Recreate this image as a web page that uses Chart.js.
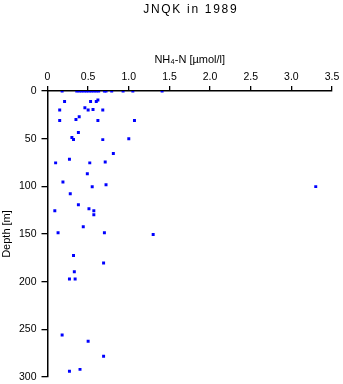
<!DOCTYPE html>
<html>
<head>
<meta charset="utf-8">
<script src="https://cdn.jsdelivr.net/npm/chart.js@4"></script>
<style>
  html, body { margin: 0; padding: 0; background: #fff; }
  #wrap { width: 343px; height: 384px; }
</style>
</head>
<body>
<div id="wrap"><canvas id="chart" width="343" height="384"></canvas></div>
<script>
// NH4-N concentration [umol/l] and sample depth [m]
const nh4 = [
  0.18, 0.36, 0.39, 0.42, 0.45, 0.48, 0.51, 0.54, 0.57, 0.60, 0.63, 0.70, 0.72, 0.79, 0.93, 1.05, 1.41,
  0.21, 0.53, 0.60, 0.62,
  0.46, 0.50, 0.56, 0.68, 0.15,
  0.39, 0.35, 0.15, 0.62, 1.07,
  0.38, 0.30, 0.32, 0.68, 1.00,
  0.81, 0.10, 0.27, 0.52, 0.71,
  0.49, 0.19, 0.55, 0.72, 3.30,
  0.28, 0.38, 0.51, 0.09, 0.57, 0.57,
  0.44, 0.13, 0.70, 1.30,
  0.32, 0.69, 0.33, 0.27, 0.34,
  0.18, 0.50, 0.69, 0.40, 0.27
];
const depth = [
  0, 0, 0, 0, 0, 0, 0, 0, 0, 0, 0, 0, 0, 0, 0, 0, 0,
  11, 11, 11, 9.5,
  17.5, 20, 19.5, 20, 20,
  27, 30, 31, 31, 31,
  43.5, 48.7, 50.9, 51, 50,
  65.6, 75.4, 71.6, 75.4, 74.4,
  86.7, 95.4, 100.4, 98.3, 100.3,
  107.7, 119.3, 123.5, 125.6, 125.6, 129.8,
  142.4, 148.7, 148.7, 150.5,
  172.6, 180.4, 189.5, 197.2, 197.2,
  256, 262.4, 278.2, 292, 294
];
const chartTitle = 'JNQK in 1989';

const points = nh4.map((v, i) => ({ x: v, y: depth[i] }));
const font = 'Liberation Sans, Arial, Helvetica, sans-serif';

// title centred over the plot area rather than the whole canvas
const plotTitle = {
  id: 'plotTitle',
  afterDraw(chart) {
    const ctx = chart.ctx;
    const area = chart.chartArea;
    ctx.save();
    ctx.font = '12px ' + font;
    ctx.letterSpacing = '1.7px';
    ctx.fillStyle = '#000';
    ctx.textAlign = 'center';
    ctx.textBaseline = 'alphabetic';
    ctx.fillText(chartTitle, (area.left + area.right) / 2 + 1, 13);
    ctx.restore();
  }
};

new Chart(document.getElementById('chart').getContext('2d'), {
  type: 'scatter',
  data: {
    datasets: [{
      data: points,
      pointStyle: 'rect',
      pointRadius: 2.1,
      pointHoverRadius: 2.1,
      borderWidth: 0,
      backgroundColor: '#0000ff',
      borderColor: '#0000ff'
    }]
  },
  plugins: [plotTitle],
  options: {
    responsive: false,
    animation: false,
    events: [],
    layout: { padding: { left: 0, right: 11, top: 53, bottom: 7 } },
    plugins: {
      legend: { display: false },
      tooltip: { enabled: false },
      title: { display: false }
    },
    scales: {
      x: {
        type: 'linear',
        position: 'top',
        min: 0,
        max: 3.5,
        afterFit(scale) { scale.height = 38; },
        ticks: {
          stepSize: 0.5,
          color: '#000',
          font: { family: font, size: 10.5 },
          padding: 3,
          maxRotation: 0
        },
        grid: { drawOnChartArea: false, color: '#000', tickLength: 5, lineWidth: 1.3 },
        border: { color: '#000', width: 1.5 },
        title: {
          display: true,
          text: 'NH\u2084-N [\u00b5mol/l]',
          color: '#000',
          font: { family: font, size: 11 },
          padding: { top: 0, bottom: 0 }
        }
      },
      y: {
        type: 'linear',
        reverse: true,
        min: 0,
        max: 300,
        afterFit(scale) {
          scale.width = 47.5;
          scale.paddingTop = 0;
          scale.paddingBottom = 0;
        },
        ticks: {
          stepSize: 50,
          color: '#000',
          font: { family: font, size: 10.5, lineHeight: 1 },
          padding: 5
        },
        grid: { drawOnChartArea: false, color: '#000', tickLength: 6, lineWidth: 1.3 },
        border: { color: '#000', width: 1.5 },
        title: {
          display: true,
          text: 'Depth [m]',
          color: '#000',
          font: { family: font, size: 11 },
          padding: { top: 0, bottom: 0 }
        }
      }
    }
  }
});
</script>
</body>
</html>
